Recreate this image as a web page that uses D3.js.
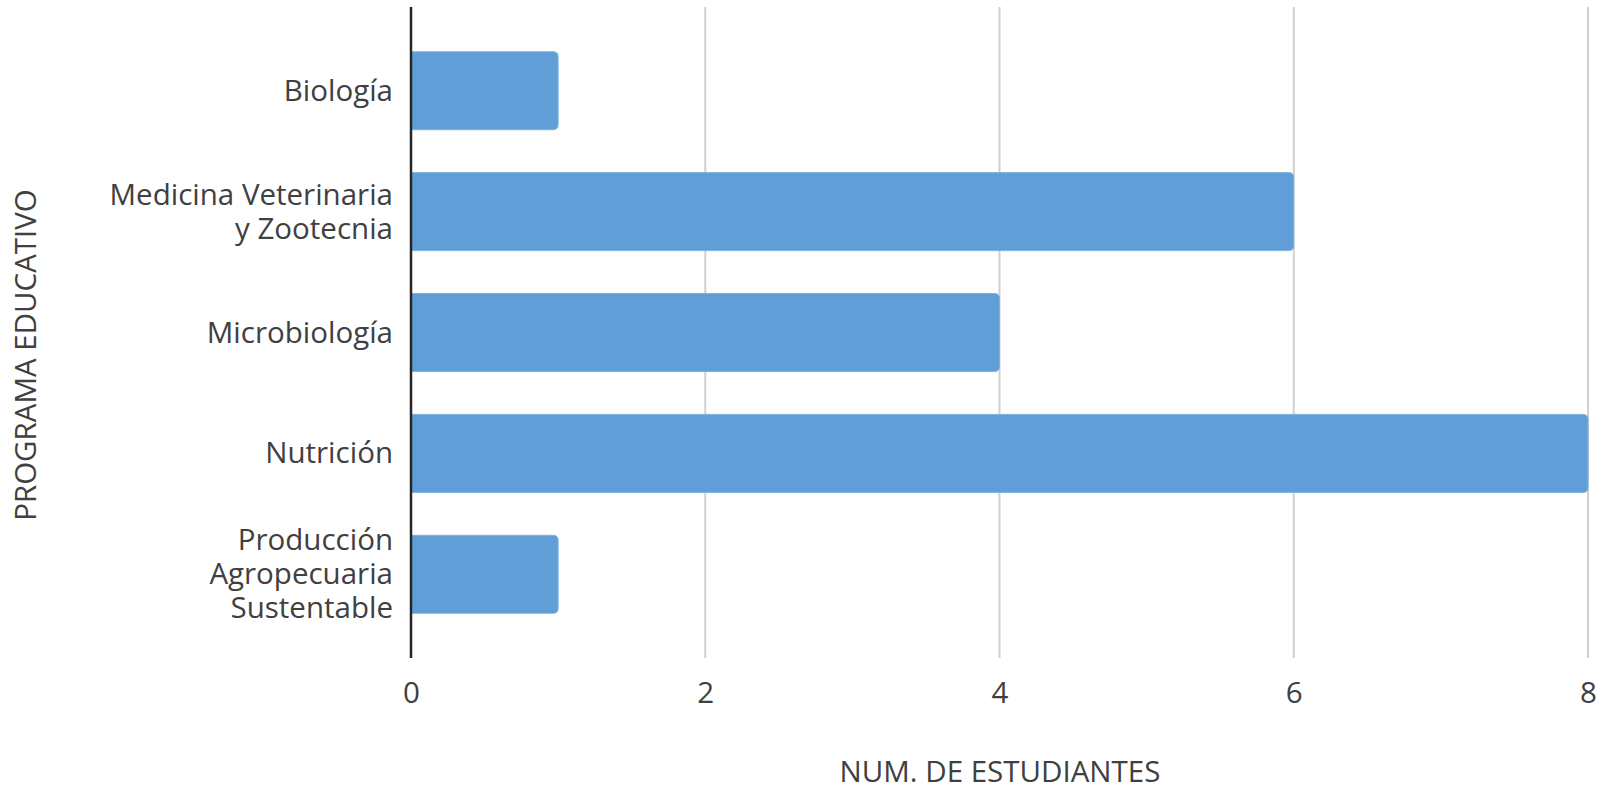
<!DOCTYPE html>
<html>
<head>
<meta charset="utf-8">
<script src="https://cdn.jsdelivr.net/npm/d3@7"></script>
<style>
  body { margin: 0; background: #fff; overflow: hidden; }
  text { font-family: "Open Sans", Lato, sans-serif; fill: #404040; }
</style>
</head>
<body>
<div id="chart"></div>
<script>
const categories = ["Biología", "Medicina Veterinaria y Zootecnia", "Microbiología", "Nutrición", "Producción Agropecuaria Sustentable"];
const labelLines = [["Biología"], ["Medicina Veterinaria", "y Zootecnia"], ["Microbiología"], ["Nutrición"], ["Producción", "Agropecuaria", "Sustentable"]];
const values = [1, 6, 4, 8, 1];
const xTicks = [0, 2, 4, 6, 8];

const width = 1606;
const height = 790;
const plot = { left: 411, right: 1588, top: 7, bottom: 658 };
const fontSize = "29.5px";

const svg = d3.select("#chart")
  .append("svg")
  .attr("width", width)
  .attr("height", height);

const xScale = d3.scaleLinear().domain([0, 8]).range([plot.left, plot.right]);
const yScale = d3.scaleBand()
  .domain(categories)
  .range([plot.top, plot.bottom])
  .paddingInner(0.355)
  .paddingOuter(0.37);

// gridlines
svg.append("g")
  .selectAll("line")
  .data(xTicks.filter(d => d > 0))
  .join("line")
  .attr("x1", d => xScale(d))
  .attr("x2", d => xScale(d))
  .attr("y1", plot.top)
  .attr("y2", plot.bottom)
  .attr("stroke", "#d0d0d0")
  .attr("stroke-width", 2);

// bars, rounded on the right end
const r = 5;
svg.append("g")
  .selectAll("path")
  .data(categories)
  .join("path")
  .attr("d", (c, i) => {
    const x0 = xScale(0), x1 = xScale(values[i]);
    const y0 = yScale(c), h = yScale.bandwidth();
    return `M${x0},${y0}H${x1 - r}Q${x1},${y0} ${x1},${y0 + r}V${y0 + h - r}Q${x1},${y0 + h} ${x1 - r},${y0 + h}H${x0}Z`;
  })
  .attr("fill", "#5f9ed6")
  .attr("stroke", "#7fb2e0")
  .attr("stroke-width", 1);

// y axis line
svg.append("line")
  .attr("x1", xScale(0))
  .attr("x2", xScale(0))
  .attr("y1", plot.top)
  .attr("y2", plot.bottom)
  .attr("stroke", "#262626")
  .attr("stroke-width", 2.5);

// x tick labels
const xAxis = svg.append("g")
  .attr("transform", "translate(0, 703)")
  .call(d3.axisBottom(xScale).tickValues(xTicks).tickSize(0).tickPadding(0));
xAxis.select(".domain").remove();
xAxis.selectAll("text")
  .attr("y", 0)
  .attr("dy", 0)
  .style("font-family", "'Open Sans', Lato, sans-serif")
  .style("font-size", fontSize)
  .style("fill", "#404040");

// category labels
const lh = 34;
const catLabels = svg.append("g")
  .selectAll("text")
  .data(categories)
  .join("text")
  .attr("text-anchor", "end")
  .style("font-size", fontSize);

catLabels.each(function(c, i) {
  const lines = labelLines[i];
  const cy = yScale(c) + yScale.bandwidth() / 2;
  d3.select(this).selectAll("tspan")
    .data(lines)
    .join("tspan")
    .attr("x", 393)
    .attr("y", (d, j) => cy + (j - (lines.length - 1) / 2) * lh + 10)
    .text(d => d);
});

// axis titles
svg.append("text")
  .attr("x", 1000)
  .attr("y", 782)
  .attr("text-anchor", "middle")
  .style("font-size", fontSize)
  .text("NUM. DE ESTUDIANTES");

svg.append("text")
  .attr("transform", "translate(36, 355) rotate(-90)")
  .attr("text-anchor", "middle")
  .style("font-size", fontSize)
  .text("PROGRAMA EDUCATIVO");
</script>
</body>
</html>
